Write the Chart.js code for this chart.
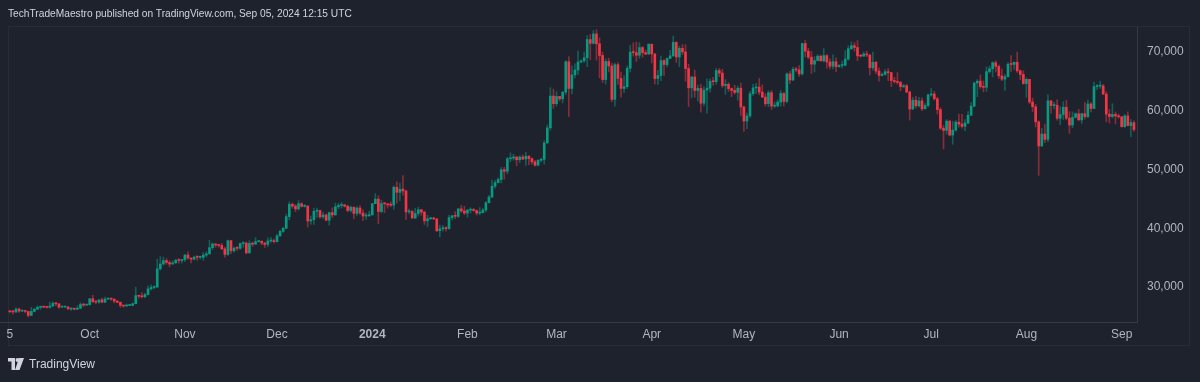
<!DOCTYPE html>
<html>
    <head>
        <meta charset="utf-8">
        <script src="https://cdn.jsdelivr.net/npm/chart.js@4/dist/chart.umd.min.js"></script>
        <style>
            html, body { margin: 0; padding: 0; background: #1e222d; }
            #wrap { position: relative; width: 1200px; height: 382px; overflow: hidden; font-family: "Liberation Sans", Arial, sans-serif; }
            #title { position: absolute; left: 8px; top: 8px; font-size: 10.2px; color: #d1d4dc; white-space: nowrap; }
            #logo { position: absolute; left: 8px; top: 357px; font-size: 12px; color: #d1d4dc; display: flex; align-items: center; }
            #logo svg { margin-right: 3px; }
            #frame { position: absolute; left: 8px; top: 26px; width: 1182px; height: 320px; border: 1px solid #282c37; box-sizing: border-box; }
            #box { position: absolute; left: 0; top: 0; width: 1200px; height: 382px; }
        </style>
    </head>
    <body>
        <div id="wrap">
            <div id="frame"></div>
            <div id="box"><canvas id="myChart"></canvas></div>
            <div id="title">TechTradeMaestro published on TradingView.com, Sep 05, 2024 12:15 UTC</div>
            <div id="logo">
                <svg width="18" height="12" viewBox="0 0 36 24"><path fill="#d1d4dc" d="M0 0h14v24H7V7H0zM22 0h10l-9 24H14z"/><circle cx="19" cy="4" r="4" fill="#d1d4dc"/></svg>
                <span>TradingView</span>
            </div>
        </div>
    </body>

    <script>
        // BTC daily candles, Sep 5 2023 .. Sep 5 2024, prices in thousands of USD
        // open of each candle = close of the previous day
        const firstOpen = 25.83

        const closes = [
            25.79,25.75,26.24,25.90,25.90,25.84,25.16,25.84,26.22,26.53,26.60,26.57,26.53,26.76,27.21,27.13,26.57,26.58,26.58,26.25,26.30,26.22,26.37,27.02,26.91,26.97,
            27.99,27.51,27.43,27.80,27.41,27.95,27.97,27.93,27.59,27.39,26.87,26.76,26.86,26.86,27.16,28.52,28.42,28.33,28.72,29.68,29.92,29.99,33.09,33.92,34.50,34.16,33.91,34.09,34.53,34.50,34.66,
            35.44,34.94,34.73,35.08,35.05,35.05,35.43,35.65,36.69,37.32,37.14,37.07,36.50,35.54,37.88,36.16,36.60,36.58,37.39,37.47,35.81,37.42,37.29,37.72,37.80,37.48,37.25,37.83,37.86,37.72,
            38.69,39.47,39.98,41.98,44.08,43.77,43.29,44.17,43.73,43.79,41.24,41.45,42.89,43.02,41.94,42.26,41.37,42.66,42.27,43.65,43.87,43.99,43.74,43.02,43.58,42.52,43.44,42.58,42.07,42.14,42.28,
            44.18,44.95,42.85,44.18,44.16,43.97,43.93,46.97,46.12,46.65,46.34,42.78,42.84,41.73,42.51,43.15,42.74,41.26,41.62,41.66,41.58,39.57,39.90,40.08,39.93,41.81,42.12,42.03,43.30,42.94,42.58,
            43.08,43.19,43.00,42.58,42.66,43.09,44.34,45.30,47.15,47.77,48.29,49.96,49.70,51.82,51.93,52.14,51.66,52.12,51.78,52.26,51.84,51.30,50.73,51.57,51.73,54.52,57.09,62.50,61.20,
            62.44,62.03,63.17,68.33,63.80,66.10,66.93,68.30,68.50,69.02,72.12,71.48,73.08,71.40,69.40,65.30,68.39,67.61,61.93,67.84,65.50,63.80,64.10,67.23,69.99,69.90,69.45,70.75,69.89,69.65,71.33,
            69.68,65.48,65.99,68.53,67.86,68.90,69.35,71.63,69.15,70.63,70.01,67.19,63.90,65.74,63.45,63.81,61.28,63.51,63.84,64.99,64.94,66.84,66.41,64.29,64.50,63.77,63.46,63.12,63.84,60.64,
            58.25,59.12,62.89,63.89,64.03,63.16,62.33,61.19,63.07,60.79,60.82,61.48,62.94,61.58,66.27,65.23,67.05,66.94,66.27,71.45,70.14,69.12,67.93,68.53,69.29,68.50,69.39,68.30,67.58,68.35,67.49,
            67.71,67.76,68.80,70.57,71.08,70.76,69.34,69.30,69.65,69.50,67.32,68.24,66.75,66.01,66.19,66.64,66.49,65.14,64.96,64.83,64.10,64.25,63.18,60.28,61.80,60.84,61.68,60.32,60.89,62.68,
            62.85,62.03,60.20,57.04,56.66,58.23,55.85,56.70,58.05,57.72,57.34,57.90,59.23,60.79,64.72,65.04,64.09,63.99,66.66,67.14,68.17,67.55,65.93,65.37,65.79,67.91,67.88,68.25,66.79,66.18,64.62,
            65.35,61.50,60.68,58.11,53.99,56.03,55.13,61.69,60.88,60.94,58.71,59.35,60.60,58.74,57.56,58.87,59.48,58.43,59.49,59.01,61.16,60.38,64.10,64.18,64.22,62.83,59.42,59.03,59.37,59.12,58.97,
            57.30,59.13,57.48,57.97,56.80
        ]

        const highs = [
            25.86,26.02,26.44,26.40,25.94,26.00,25.88,26.54,26.39,26.82,26.77,26.62,26.62,27.41,27.49,27.37,27.16,26.74,26.62,26.73,26.43,26.39,26.83,27.31,27.23,27.09,
            28.05,28.58,27.67,27.83,28.13,28.29,28.03,28.09,27.99,27.73,27.48,26.83,27.10,26.97,27.28,29.96,28.61,28.99,28.92,30.19,30.35,30.20,34.74,35.19,35.09,34.84,34.47,34.47,34.76,34.85,34.72,
            35.58,35.98,34.94,35.26,35.38,35.28,35.89,35.99,37.97,37.52,37.41,37.22,37.42,36.77,37.98,37.93,36.84,36.86,37.51,37.75,37.66,37.88,37.63,38.43,37.90,37.84,37.59,38.38,38.45,38.17,
            38.98,39.69,40.20,42.40,44.49,44.31,44.04,44.70,44.36,44.04,43.79,42.10,43.43,43.42,43.09,42.72,42.43,42.75,43.49,44.27,44.23,44.38,44.02,43.94,43.78,43.60,43.68,43.80,43.12,42.60,42.89,
            44.23,45.90,45.50,44.77,44.35,44.19,44.50,47.22,47.90,47.70,48.97,46.50,43.26,43.06,43.40,43.58,43.19,42.93,42.20,41.87,41.88,41.68,40.55,40.50,40.28,42.23,42.20,42.84,43.32,43.88,43.75,
            43.25,43.48,43.38,43.12,43.53,43.40,44.53,45.60,48.20,48.17,48.58,50.34,50.37,52.08,52.82,52.59,52.16,52.35,52.49,52.96,52.37,52.00,51.55,51.70,51.95,54.91,57.58,63.93,63.68,
            63.23,62.43,63.23,68.56,69.20,67.63,67.97,70.17,68.65,70.00,72.80,73.00,73.65,73.80,72.40,70.00,68.84,68.94,68.10,68.10,68.20,66.60,65.97,67.59,71.16,71.56,71.70,71.60,70.94,70.30,71.37,
            71.33,69.68,66.90,69.30,68.72,69.00,70.30,72.72,71.75,71.00,71.26,71.25,67.90,65.84,66.90,64.37,64.50,64.10,65.45,65.45,65.70,67.23,67.20,67.08,65.30,64.80,63.90,64.35,64.21,64.70,
            60.80,59.60,63.30,64.50,64.65,65.50,64.40,62.90,63.42,63.45,61.50,61.85,63.44,63.10,66.44,66.70,67.44,67.40,67.70,71.50,71.96,70.65,70.09,69.22,69.57,69.50,70.60,69.56,68.90,69.50,69.00,
            67.84,68.44,70.25,71.06,71.75,71.60,71.95,69.55,70.00,70.15,69.55,69.98,68.40,67.30,66.44,66.99,67.20,66.50,65.70,66.48,65.00,64.50,64.50,63.35,62.30,62.45,62.30,62.20,61.20,62.90,
            63.80,63.29,62.30,60.50,57.50,58.50,58.35,58.20,58.35,59.45,59.40,58.50,59.85,61.40,64.87,65.30,66.10,65.10,67.45,67.60,68.35,68.50,67.80,67.10,66.20,68.25,69.40,68.30,70.00,66.95,66.80,
            65.60,65.00,62.15,61.10,58.30,57.00,57.70,62.70,61.75,61.45,61.85,60.70,61.55,61.80,59.85,59.80,59.65,60.25,59.60,61.40,61.80,61.40,64.90,64.50,65.00,64.50,63.25,60.25,61.20,59.80,59.45,
            59.05,59.40,59.80,58.50,58.30
        ]

        const lows = [
            25.60,25.38,25.63,25.66,25.80,25.61,24.90,25.13,25.77,26.13,26.22,26.47,26.41,26.38,26.67,26.83,26.37,26.51,26.52,26.21,25.99,26.09,26.12,26.34,26.67,26.89,
            26.95,27.30,27.17,27.22,27.38,27.35,27.86,27.71,27.28,27.30,26.56,26.55,26.67,26.82,26.82,27.13,28.10,28.15,28.18,28.60,29.48,29.68,29.89,32.87,33.71,33.87,33.42,33.85,34.06,34.05,34.08,
            34.33,34.73,34.11,34.59,34.55,34.75,34.53,35.11,35.54,36.35,36.74,36.75,36.36,35.08,35.36,35.68,35.91,36.21,36.40,36.72,35.64,35.75,36.90,37.26,37.62,37.16,36.73,36.88,37.60,37.51,
            37.63,38.65,39.29,39.98,41.43,43.41,42.81,43.09,43.59,43.55,40.22,40.68,40.63,41.85,41.66,41.69,41.26,40.53,41.79,42.21,43.31,43.43,43.60,42.79,42.74,41.61,42.10,42.30,41.30,41.52,41.97,
            42.20,44.17,40.75,42.63,42.64,43.42,43.65,43.20,44.30,44.70,45.62,41.50,42.44,41.72,41.70,42.05,42.20,40.65,40.28,41.45,41.50,39.43,38.55,39.50,39.51,39.85,41.40,41.62,41.80,42.70,42.30,
            41.88,42.58,42.89,42.26,42.28,42.57,42.79,44.33,45.25,46.80,47.70,47.70,48.35,49.28,51.32,51.58,50.63,51.18,51.65,50.70,50.82,50.91,50.55,50.60,51.30,50.90,54.45,56.70,60.40,
            60.80,61.64,61.33,62.76,59.00,62.86,65.60,66.20,68.13,68.21,67.50,68.70,71.33,68.60,65.60,64.80,64.55,66.60,61.55,60.77,64.50,62.30,63.10,63.80,66.60,69.30,68.40,68.90,69.12,69.53,69.59,
            68.13,64.55,64.50,65.10,66.00,67.47,68.87,69.20,68.20,67.50,69.55,65.00,60.70,62.20,62.30,61.65,59.77,60.80,59.60,63.15,64.30,64.50,65.80,63.95,62.80,63.30,62.40,62.83,61.80,59.19,
            56.50,56.95,58.80,62.60,62.92,62.70,62.25,60.80,60.66,60.20,60.50,60.63,60.75,60.80,61.33,64.60,65.10,66.60,65.86,66.07,69.15,68.80,66.35,66.60,68.50,68.45,68.30,67.25,67.12,67.13,66.66,
            67.40,67.30,67.60,68.55,70.40,70.12,68.50,69.16,69.25,69.20,66.10,66.90,66.30,65.05,65.90,66.05,65.10,64.10,64.70,64.50,63.40,63.93,63.10,58.40,60.25,60.50,60.60,60.00,60.35,60.65,
            62.45,61.80,59.45,56.80,53.50,56.01,55.70,54.30,56.50,57.20,57.05,56.60,57.80,59.20,60.65,62.40,63.80,63.20,63.30,66.40,65.78,66.60,65.50,65.10,63.45,65.75,66.70,67.05,66.50,65.30,64.50,
            62.30,61.20,59.85,57.22,49.00,54.50,54.56,54.75,59.60,60.30,58.40,57.65,58.50,58.45,56.14,57.10,58.80,58.40,57.85,58.60,58.80,59.80,60.38,63.60,63.80,62.80,58.10,57.90,58.80,57.75,58.75,
            57.20,57.15,57.40,55.60,56.50
        ]

        // x axis: day number counted from Sep 5 2023
        const tickDays = [0, 26, 57, 87, 118, 149, 178, 209, 239, 270, 300, 331, 362]
        const tickLabels = ['5', 'Oct', 'Nov', 'Dec', '2024', 'Feb', 'Mar', 'Apr', 'May', 'Jun', 'Jul', 'Aug', 'Sep']
        const priceTicks = [30000, 40000, 50000, 60000, 70000]

        const UP = '#089981'
        const DOWN = '#f23645'
        const UP_WICK = 'rgba(8,153,129,0.5)'
        const DOWN_WICK = 'rgba(242,54,69,0.5)'

        // build candle bodies and wicks
        let bodies = []
        let wicks = []
        let bodyColors = []
        let wickColors = []
        for (let i = 0; i < closes.length; i++) {
            const o = i == 0 ? firstOpen : closes[i - 1]
            const c = closes[i]
            const hi = Math.max(highs[i], o, c)
            const lo = Math.min(lows[i], o, c)
            bodies.push({ x: i, y: [o * 1000, c * 1000] })
            wicks.push({ x: i, y: [lo * 1000, hi * 1000] })
            bodyColors.push(c >= o ? UP : DOWN)
            wickColors.push(c >= o ? UP_WICK : DOWN_WICK)
        }

        const data = {
            datasets: [{
                label: 'wick',
                data: wicks,
                backgroundColor: wickColors,
                barThickness: 1,
                grouped: false,
                order: 2
            }, {
                label: 'body',
                data: bodies,
                backgroundColor: bodyColors,
                barThickness: 2,
                minBarLength: 1,
                grouped: false,
                order: 1
            }]
        }

        const config = {
            type: 'bar',
            data: data,
            options: {
                responsive: true,
                maintainAspectRatio: false,
                animation: false,
                layout: { padding: { top: 27, left: 0, right: 0, bottom: 0 } },
                plugins: {
                    legend: { display: false },
                    tooltip: { enabled: false }
                },
                scales: {
                    x: {
                        type: 'linear',
                        offset: false,
                        min: -3.2,
                        max: 367.0,
                        grid: { display: false, drawTicks: false, offset: false },
                        border: { display: true, color: '#363a45' },
                        afterBuildTicks: (scale) => {
                            scale.ticks = tickDays.map((v) => ({ value: v }))
                        },
                        afterFit: (scale) => { scale.height = 60 },
                        ticks: {
                            autoSkip: false,
                            maxRotation: 0,
                            padding: 5,
                            color: '#b2b5be',
                            font: (ctx) => ({
                                family: '"Liberation Sans", Arial, sans-serif',
                                size: 12,
                                weight: ctx.tick && ctx.tick.label == '2024' ? 'bold' : 'normal'
                            }),
                            callback: (value, index) => tickLabels[index]
                        }
                    },
                    y: {
                        position: 'right',
                        min: 24040,
                        max: 74255,
                        grid: { display: false, drawTicks: false },
                        border: { display: true, color: '#363a45' },
                        afterBuildTicks: (scale) => {
                            scale.ticks = priceTicks.map((v) => ({ value: v }))
                        },
                        afterFit: (scale) => { scale.width = 63 },
                        ticks: {
                            padding: 10,
                            color: '#b2b5be',
                            font: { family: '"Liberation Sans", Arial, sans-serif', size: 12 },
                            callback: (value) => value.toLocaleString('en-US')
                        }
                    }
                }
            }
        }

        const myChart = new Chart(document.getElementById('myChart'), config)
    </script>
</html>
